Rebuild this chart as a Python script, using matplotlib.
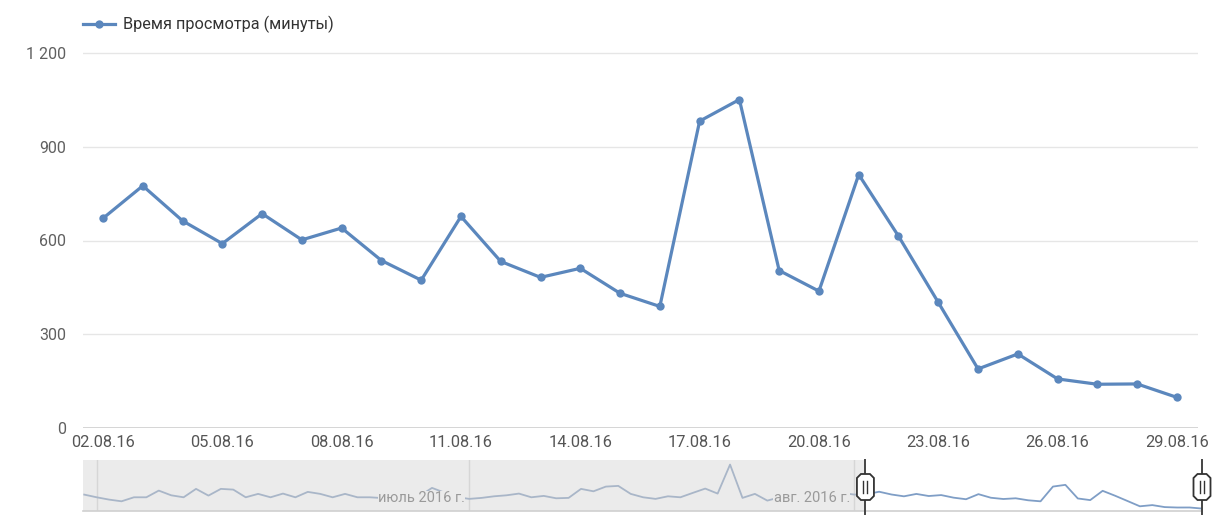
import matplotlib
matplotlib.use("Agg")
import matplotlib.pyplot as plt
from matplotlib.lines import Line2D
from matplotlib.patches import Polygon
import pandas as pd

plt.rcParams['font.family'] = ['Roboto', 'DejaVu Sans']

# ---------------- data ----------------
dates = pd.date_range("2016-08-02", "2016-08-29", freq="D")
date_labels = [d.strftime("%d.%m.%y") for d in dates]
watch_minutes = [671, 775, 663, 590, 686, 602, 640, 536, 473, 677,
                 533, 482, 511, 431, 389, 982, 1051, 504, 438, 811,
                 614, 402, 189, 237, 157, 140, 141, 98]

# navigator history: 31.05.2016 .. 01.08.2016 (daily)
history_minutes = [659, 551, 458, 390, 551, 551, 820, 631, 551, 889,
                   619, 889, 860, 551, 688, 551, 700, 551, 768, 688,
                   551, 688, 551, 551, 520, 540, 560, 600, 929, 740,
                   560, 487, 527, 591, 631, 700, 551, 607, 511, 527,
                   889, 792, 981, 1009, 688, 551, 487, 591, 551, 728,
                   901, 700, 1866, 527, 688, 418, 551, 480, 500, 520,
                   600, 728, 660]
history_dates = pd.date_range("2016-05-31", "2016-08-01", freq="D")
month_labels = ["июль 2016 г.", "авг. 2016 г."]
month_starts = ["2016-07-01", "2016-08-01"]
extra_month_lines = ["2016-06-01"]

series_name = "Время просмотра (минуты)"
y_ticks = [0, 300, 600, 900, 1200]

# ---------------- figure ----------------
W, H = 1224, 530
fig = plt.figure(figsize=(W / 100, H / 100), dpi=100)

def fx(px):
    return px / W

def fy(py):
    return 1 - py / H

LINE = '#5b87bd'
TXT = '#555555'

# main axes
ax = fig.add_axes([fx(83), fy(428), fx(1198 - 83), (428 - 45) / H])
x = list(range(len(watch_minutes)))
ax.plot(x, watch_minutes, color=LINE, lw=2.3, marker='o', markersize=6,
        markeredgewidth=0, zorder=3, clip_on=False, solid_joinstyle='round')
ax.set_xlim(-0.503, 27.53)
ax.set_ylim(0, 1225.6)
ax.set_yticks(y_ticks)
ax.set_yticklabels([f"{v:,}".replace(",", " ") for v in y_ticks])
ax.set_xticks(x[::3])
ax.set_xticklabels(date_labels[::3])
for s in ax.spines.values():
    s.set_visible(False)
ax.grid(axis='y', color='#e6e6e6', lw=1)
ax.axhline(0, color='#cfcfcf', lw=1.2, zorder=2)
ax.tick_params(axis='y', length=0, pad=12, labelsize=11.5, labelcolor='#606060')
ax.tick_params(axis='x', length=0, pad=5, labelsize=11.8, labelcolor=TXT)
ax.set_axisbelow(True)

# legend (manual)
fig.add_artist(Line2D([fx(83), fx(115)], [fy(24), fy(24)], color=LINE, lw=2.3,
                      transform=fig.transFigure))
fig.add_artist(Line2D([fx(99)], [fy(24)], color=LINE, marker='o', markersize=6,
                      markeredgewidth=0, transform=fig.transFigure))
fig.text(fx(123), fy(24), series_name, fontsize=11.7, color='#333333',
         va='center', ha='left')

# ---------------- navigator ----------------
nav = fig.add_axes([fx(83), fy(511), fx(1202 - 83), (511 - 460) / H])
n_hist = len(history_minutes)
hx = list(range(-n_hist, 1))
hy = history_minutes + [watch_minutes[0]]
nav.set_xlim(-n_hist - 0.1, len(watch_minutes) - 1)
nav.set_ylim(0, 2050)
for s in nav.spines.values():
    s.set_visible(False)
nav.set_xticks([])
nav.set_yticks([])
sel_start = -0.1
sel_end = len(watch_minutes) - 1
nav.axvspan(-n_hist - 0.1, sel_start, color='#ebebeb', lw=0, zorder=0)

def day_index(d):
    return (pd.Timestamp(d) - dates[0]).days

for d in extra_month_lines + month_starts:
    nav.axvline(day_index(d), color='#d6d6d6', lw=1, zorder=1)

nav.plot(hx, hy, color='#a9b6c8', lw=1.3, zorder=2)
nav.plot(x, watch_minutes, color='#7f9ec6', lw=1.3, zorder=2)

for lab, d in zip(month_labels, month_starts):
    nav.text(day_index(d) - 0.35, 0.25, lab, transform=nav.get_xaxis_transform(),
             ha='right', va='center', fontsize=10.5, color='#9a9a9a', zorder=4,
             bbox=dict(facecolor='#ebebeb', edgecolor='none', pad=0.3))

nav.axhline(0, color='#d0d0d0', lw=1.2, zorder=3, clip_on=False)

# handles
for hxpos in (sel_start, sel_end):
    px = nav.transData.transform((hxpos, 0))[0]
    fig.add_artist(Line2D([fx(px), fx(px)], [fy(460), fy(514)], color='#444444',
                          lw=1.4, transform=fig.transFigure, zorder=5))
    hw, top, bot, b = 8.5, 474, 500, 4
    pts = [(px - hw + b, top), (px + hw - b, top), (px + hw, top + b),
           (px + hw, bot - b), (px + hw - b, bot), (px - hw + b, bot),
           (px - hw, bot - b), (px - hw, top + b)]
    fig.add_artist(Polygon([(fx(a), fy(c)) for a, c in pts], closed=True,
                           facecolor='white', edgecolor='#333333', lw=1.3,
                           transform=fig.transFigure, zorder=6))
    for dx in (-2, 2):
        fig.add_artist(Line2D([fx(px + dx), fx(px + dx)], [fy(481), fy(493)],
                              color='#333333', lw=1.0, transform=fig.transFigure,
                              zorder=7))

fig.savefig("out.png", dpi=100, facecolor='white')
